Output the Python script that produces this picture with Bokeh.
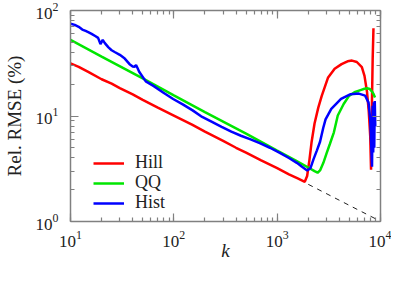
from bokeh.plotting import figure
from bokeh.models import Range1d, LogAxis, LogTicker, Legend, LegendItem, CustomJSTickFormatter
from bokeh.embed import file_html
from bokeh.resources import INLINE

# ---- data ----
hill_k = [10, 12, 15, 20, 25, 30, 40, 50, 70, 100, 150, 200, 300, 400, 500, 700,
          1000, 1300, 1600, 1850, 1950, 2050, 2150, 2300, 2500, 2700, 3100, 3600,
          4200, 4800, 5300, 5900, 6600, 7000, 7400, 7700, 7950, 8100, 8250, 8400, 8550]
hill_y = [31.5, 29.2, 26.0, 22.3, 20.3, 18.4, 16.0, 14.2, 12.0, 10.1, 8.3, 7.1, 5.8, 5.0, 4.5, 3.8,
          3.2, 2.8, 2.55, 2.38, 2.7, 3.8, 5.6, 8.5, 12.0, 15.5, 23.0, 28.0,
          31.0, 33.0, 33.5, 32.5, 29.0, 24.0, 17.0, 11.0, 6.5, 3.1, 12.0, 35.0, 68.0]

qq_k = [10, 20, 50, 100, 200, 500, 1000, 1500, 2000, 2300, 2460, 2600, 2800, 3000,
        3230, 3540, 3860, 4400, 4960, 5600, 6400, 7000, 7400, 7900, 8300, 8600, 8850]
qq_y = [52.6, 36.6, 22.7, 15.7, 10.9, 6.8, 4.7, 3.8, 3.25, 3.0, 2.9, 3.05, 3.6, 4.4,
        5.4, 7.0, 10.1, 13.0, 15.5, 16.8, 17.6, 18.1, 18.3, 18.0, 17.0, 16.0, 15.0]

hist_k = [10, 11, 12, 13, 14, 15, 16, 17.5, 18.5, 19.5, 20.5, 21.5, 23.3, 25, 27, 30,
          33.5, 37.3, 40, 41.6, 43.1, 44.5, 46.2, 53.5, 64, 79.4, 98.5, 122, 152, 188,
          234, 290, 360, 446, 553, 687, 850, 1050, 1300, 1550, 1740, 1950, 2100, 2250,
          2420, 2600, 2790, 2940, 3340, 4150, 5140, 6170, 7100, 7660, 7950, 8100, 8280,
          8400, 8500, 8600, 8700, 8800, 8900]
hist_y = [75, 73, 70, 66, 64, 62, 60, 57, 55, 48, 52.6, 49, 44.7, 42, 40.2, 38,
          35, 31, 29.5, 29.2, 30.4, 28.5, 26.3, 21.3, 19.2, 16.6, 14.5, 12.9, 11.3, 9.8,
          8.8, 7.9, 7.1, 6.5, 6.0, 5.5, 5.0, 4.5, 4.0, 3.6, 3.3, 3.05, 3.2, 3.9,
          4.7, 5.7, 7.7, 9.3, 11.7, 14.5, 16.1, 16.3, 15.6, 13.4, 9.4, 5.8, 3.3,
          12.5, 4.5, 13.5, 5.0, 13.9, 8.0]

dash_k = [2000, 9500]
dash_y = [2.25, 1.03]

labels = ["Hill", "QQ", "Hist"]
colors = ["#ff0000", "#00e600", "#0000ff"]
x_title = "k"
y_title = "Rel. RMSE (%)"

FONT = "Liberation Serif"
AXIS_COLOR = "#808080"
TEXT_COLOR = "#222222"

p = figure(width=391, height=272, x_axis_type="log", y_axis_type="log",
           x_range=Range1d(10, 1e4), y_range=Range1d(1, 100),
           output_backend="svg", toolbar_location=None,
           x_axis_label=x_title, y_axis_label=y_title,
           min_border_left=66, min_border_right=11, min_border_top=10, min_border_bottom=51)
p.xgrid.visible = False
p.ygrid.visible = False
p.outline_line_color = None
p.background_fill_color = "white"
p.border_fill_color = "white"


def style_axis(ax, labels_on=True):
    ax.ticker = LogTicker(num_minor_ticks=10)
    ax.axis_line_color = AXIS_COLOR
    ax.axis_line_width = 1.5
    ax.major_tick_line_color = AXIS_COLOR
    ax.minor_tick_line_color = AXIS_COLOR
    ax.major_tick_line_width = 1.2
    ax.minor_tick_line_width = 1.2
    ax.major_tick_in = 8
    ax.major_tick_out = 0
    ax.minor_tick_in = 4
    ax.minor_tick_out = 0
    if labels_on:
        ax.major_label_text_font = FONT
        ax.major_label_text_font_size = "17px"
        ax.major_label_text_color = TEXT_COLOR
        ax.axis_label_text_font = FONT
        ax.axis_label_text_font_size = "19px"
        ax.axis_label_text_color = TEXT_COLOR
    else:
        ax.formatter = CustomJSTickFormatter(code="return ''")
        ax.major_label_text_font_size = "1px"
        ax.major_label_standoff = 0


style_axis(p.xaxis[0])
style_axis(p.yaxis[0])
p.xaxis[0].major_label_standoff = 9
p.xaxis[0].axis_label_standoff = -10
p.xaxis[0].axis_label_text_line_height = 1.0
p.xaxis[0].axis_label_text_font_style = "italic"
p.yaxis[0].major_label_standoff = 12
p.yaxis[0].axis_label_standoff = 8
p.yaxis[0].axis_label_text_font_style = "normal"

top = LogAxis()
right = LogAxis()
style_axis(top, False)
style_axis(right, False)
p.add_layout(top, "above")
p.add_layout(right, "right")

p.line(dash_k, dash_y, line_color="#222222", line_width=1, line_dash="5 5")
r_hill = p.line(hill_k, hill_y, line_color=colors[0], line_width=2.5)
r_qq = p.line(qq_k, qq_y, line_color=colors[1], line_width=2.5)
r_hist = p.line(hist_k, hist_y, line_color=colors[2], line_width=2.5)

# one single-entry legend per series, so that the rows sit 20px apart
for lab, rend, ypos in zip(labels, [r_hill, r_qq, r_hist], [48, 28, 8]):
    lg = Legend(items=[LegendItem(label=lab, renderers=[rend])], location=(23, ypos))
    lg.margin = 0
    lg.padding = 0
    lg.border_line_color = None
    lg.background_fill_alpha = 0
    lg.label_text_font = FONT
    lg.label_text_font_size = "18px"
    lg.label_text_color = TEXT_COLOR
    lg.glyph_width = 31
    lg.glyph_height = 18
    lg.label_height = 18
    lg.label_standoff = 11
    lg.spacing = 0
    p.add_layout(lg)

open("out.html", "w").write(file_html(p, INLINE))
